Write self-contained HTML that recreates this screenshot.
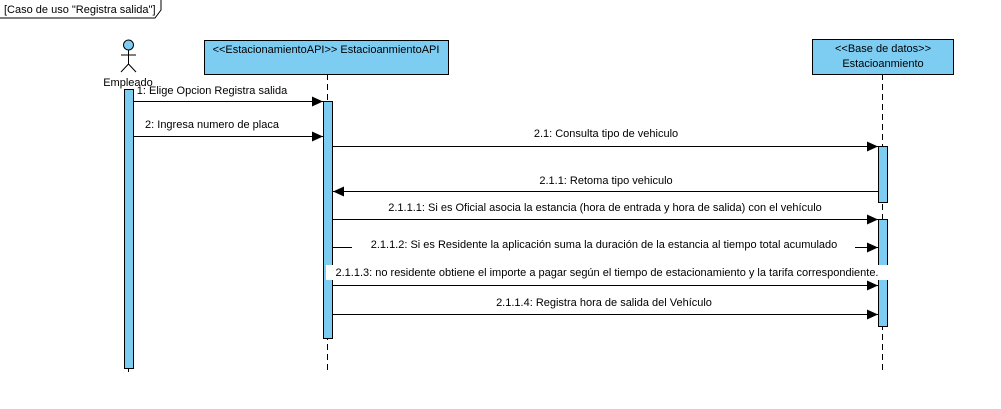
<!DOCTYPE html>
<html><head><meta charset="utf-8"><style>
html,body{margin:0;padding:0;background:#fff;}
svg text{font-family:"Liberation Sans",Arial,sans-serif;font-size:11px;fill:#000;}
</style></head><body>
<svg width="1001" height="404" viewBox="0 0 1001 404" xmlns="http://www.w3.org/2000/svg">
<defs>
<marker id="a" markerWidth="12" markerHeight="10" refX="11" refY="5" orient="auto" markerUnits="userSpaceOnUse">
<path d="M0,0 L11,5 L0,10 z" fill="#000"/></marker>
</defs>
<!-- frame tab -->
<path d="M0,18 L155,18 L161,10 L161,0" fill="none" stroke="#000" stroke-width="1"/>
<text x="4" y="13">[Caso de uso "Registra salida"]</text>
<!-- actor -->
<circle cx="128.5" cy="45" r="5" fill="#7dcdf3" stroke="#000"/>
<line x1="128.5" y1="50" x2="128.5" y2="64" stroke="#000"/>
<line x1="121" y1="55" x2="136" y2="55" stroke="#000"/>
<line x1="128.5" y1="64" x2="121" y2="72" stroke="#000"/>
<line x1="128.5" y1="64" x2="136" y2="72" stroke="#000"/>
<text x="128" y="86" text-anchor="middle">Empleado</text>
<!-- lifelines -->
<line x1="128.5" y1="368" x2="128.5" y2="372" stroke="#000" stroke-dasharray="6,4"/>
<line x1="327.5" y1="74" x2="327.5" y2="372" stroke="#000" stroke-dasharray="6,4"/>
<line x1="882.5" y1="74" x2="882.5" y2="372" stroke="#000" stroke-dasharray="6,4"/>
<!-- boxes -->
<rect x="204.5" y="40.5" width="244" height="34" fill="#7dcdf3" stroke="#000"/>
<text x="326" y="53" text-anchor="middle">&lt;&lt;EstacionamientoAPI&gt;&gt; EstacioanmientoAPI</text>
<rect x="812.5" y="39.5" width="141" height="35" fill="#7dcdf3" stroke="#000"/>
<text x="883" y="52" text-anchor="middle">&lt;&lt;Base de datos&gt;&gt;</text>
<text x="883" y="67" text-anchor="middle">Estacioanmiento</text>
<!-- activations -->
<rect x="124.5" y="89.5" width="9" height="279" fill="#7dcdf3" stroke="#000"/>
<rect x="323.5" y="101.5" width="9" height="237" fill="#7dcdf3" stroke="#000"/>
<rect x="878.5" y="146.5" width="9" height="56" fill="#7dcdf3" stroke="#000"/>
<rect x="878.5" y="219.5" width="9" height="107" fill="#7dcdf3" stroke="#000"/>
<!-- messages -->
<line x1="133" y1="101.5" x2="323" y2="101.5" stroke="#000" marker-end="url(#a)"/>
<text x="212" y="94" text-anchor="middle">1: Elige Opcion Registra salida</text>
<line x1="133" y1="136.5" x2="323" y2="136.5" stroke="#000" marker-end="url(#a)"/>
<text x="212" y="128" text-anchor="middle">2: Ingresa numero de placa</text>
<line x1="333" y1="146.5" x2="878" y2="146.5" stroke="#000" marker-end="url(#a)"/>
<text x="606" y="137" text-anchor="middle">2.1: Consulta tipo de vehiculo</text>
<line x1="878" y1="191.5" x2="333" y2="191.5" stroke="#000" marker-end="url(#a)"/>
<text x="606" y="184" text-anchor="middle">2.1.1: Retoma tipo vehiculo</text>
<line x1="333" y1="219.5" x2="878" y2="219.5" stroke="#000" marker-end="url(#a)"/>
<text x="605" y="211" text-anchor="middle">2.1.1.1: Si es Oficial  asocia la estancia (hora de entrada y hora de salida) con el vehículo</text>
<line x1="333" y1="247.5" x2="878" y2="247.5" stroke="#000" marker-end="url(#a)"/>
<rect x="352" y="238" width="503" height="14" fill="#fff"/>
<text x="604" y="248" text-anchor="middle">2.1.1.2: Si es Residente  la aplicación suma la duración de la estancia al tiempo total acumulado</text>
<line x1="333" y1="285.5" x2="878" y2="285.5" stroke="#000" marker-end="url(#a)"/>
<rect x="326" y="265" width="562" height="15" fill="#fff"/>
<text x="607" y="276" text-anchor="middle">2.1.1.3: no residente obtiene el importe a pagar según el tiempo de estacionamiento y la tarifa correspondiente.</text>
<line x1="333" y1="314.5" x2="878" y2="314.5" stroke="#000" marker-end="url(#a)"/>
<text x="604" y="306" text-anchor="middle">2.1.1.4: Registra hora de salida del Vehículo</text>
</svg>
</body></html>
